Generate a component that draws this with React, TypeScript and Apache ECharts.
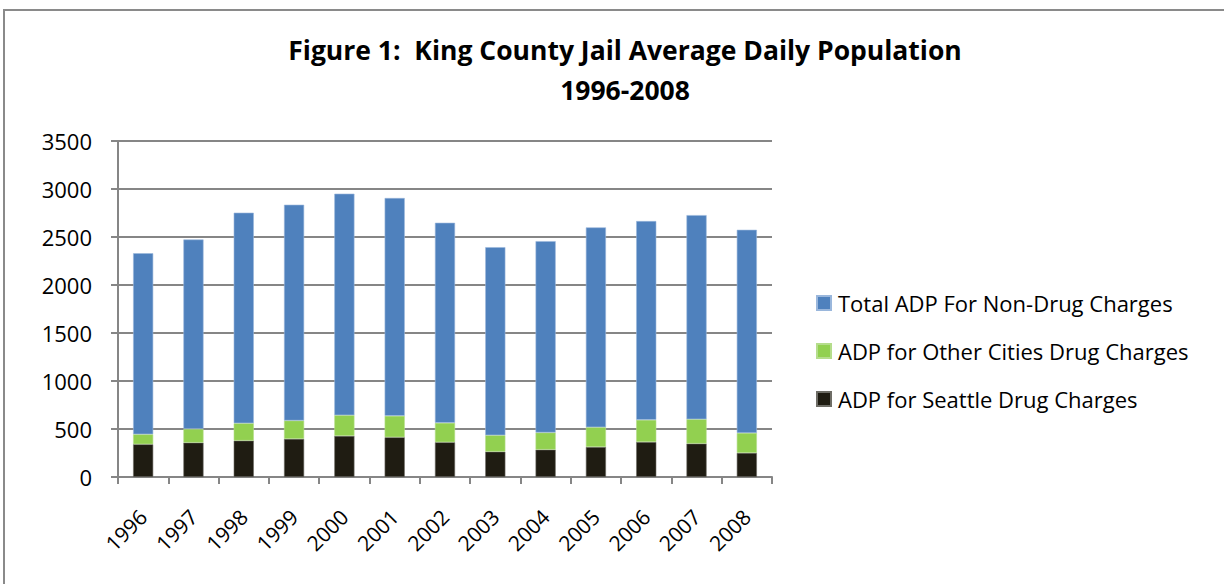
import React, { useEffect, useRef } from "react";
import * as echarts from "echarts";

const years = ["1996","1997","1998","1999","2000","2001","2002","2003","2004","2005","2006","2007","2008"];
const seattleDrug = [341, 358, 379, 397, 428, 414, 362, 264, 285, 313, 365, 348, 251];
const otherCitiesDrug = [104, 143, 181, 191, 216, 223, 202, 171, 178, 206, 230, 254, 208];
const nonDrug = [1886, 1973, 2193, 2248, 2307, 2269, 2084, 1959, 1994, 2081, 2071, 2126, 2116];

const FONT = "Open Sans";

export default function App() {
  const ref = useRef<HTMLDivElement>(null);
  useEffect(() => {
    document.body.style.margin = "0";
    const chart = echarts.init(ref.current!, null, { renderer: "svg" });
    chart.setOption({
      animation: false,
      backgroundColor: "#ffffff",
      textStyle: { fontFamily: FONT },
      title: {
        text: "Figure 1:  King County Jail Average Daily Population\n1996-2008",
        left: 620,
        top: 25,
        textAlign: "center",
        textStyle: { fontFamily: FONT, fontWeight: "bold", fontSize: 26.5, color: "#000", lineHeight: 40 },
      },
      graphic: [
        {
          type: "rect",
          shape: { x: 4, y: 10, width: 1400, height: 800 },
          style: { fill: "none", stroke: "#8a8a8a", lineWidth: 2 },
          silent: true,
        },
      ],
      legend: {
        orient: "vertical",
        left: 811,
        top: 287,
        icon: "rect",
        itemWidth: 14,
        itemHeight: 14,
        itemGap: 26,
        data: ["Total ADP For Non-Drug Charges", "ADP for Other Cities Drug Charges", "ADP for Seattle Drug Charges"],
        textStyle: { fontFamily: FONT, fontSize: 22, color: "#000", padding: [0, 0, 0, 2] },
      },
      grid: { left: 118, right: 452, top: 141, bottom: 107, containLabel: false },
      xAxis: {
        type: "category",
        data: years,
        axisLine: { lineStyle: { color: "#868686", width: 2 } },
        axisTick: { show: true, length: 7, lineStyle: { color: "#868686", width: 2 } },
        axisLabel: { rotate: 45, fontSize: 21, color: "#000", margin: 36, fontFamily: FONT },
      },
      yAxis: {
        type: "value",
        min: 0,
        max: 3500,
        interval: 500,
        axisLine: { show: true, lineStyle: { color: "#868686", width: 2 } },
        axisTick: { show: true, length: 7, lineStyle: { color: "#868686", width: 2 } },
        splitLine: { lineStyle: { color: "#868686", width: 2 } },
        axisLabel: { fontSize: 22, color: "#000", margin: 26, fontFamily: FONT, formatter: (v: number) => String(v) },
      },
      series: [
        {
          name: "ADP for Seattle Drug Charges",
          type: "bar",
          stack: "total",
          data: seattleDrug,
          barWidth: "40%",
          itemStyle: { color: "#1F1C12", borderColor: "#6e6d66", borderWidth: 0.6 },
        },
        {
          name: "ADP for Other Cities Drug Charges",
          type: "bar",
          stack: "total",
          data: otherCitiesDrug,
          itemStyle: { color: "#92D050", borderColor: "#b5dd8c", borderWidth: 0.6 },
        },
        {
          name: "Total ADP For Non-Drug Charges",
          type: "bar",
          stack: "total",
          data: nonDrug,
          itemStyle: { color: "#4F81BD", borderColor: "#9ab7dc", borderWidth: 0.6 },
        },
      ],
    });
    return () => chart.dispose();
  }, []);
  return <div ref={ref} style={{ width: 1224, height: 584 }} />;
}
